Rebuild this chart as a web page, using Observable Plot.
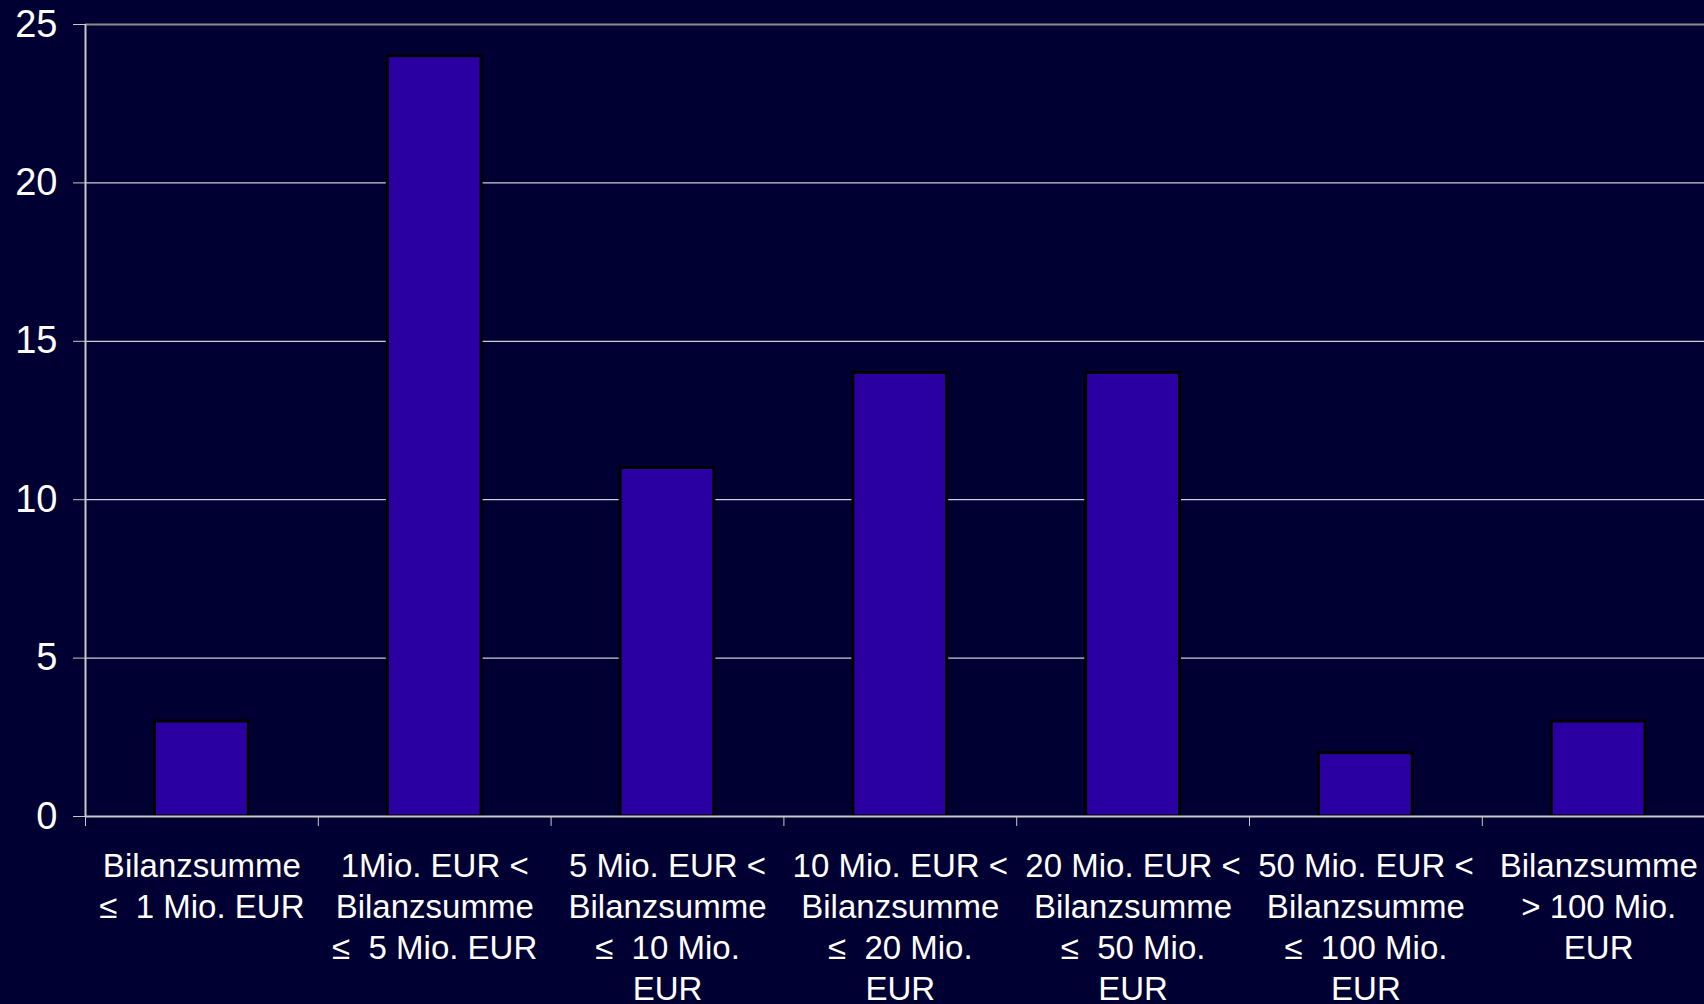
<!DOCTYPE html>
<html>
<head>
<meta charset="utf-8">
<script src="https://cdn.jsdelivr.net/npm/d3@7"></script>
<script src="https://cdn.jsdelivr.net/npm/@observablehq/plot@0.6"></script>
<style>
  html, body { margin: 0; padding: 0; background: #000033; overflow: hidden; }
</style>
</head>
<body>
<div id="chart"></div>
<script>
const categories = [
  "Bilanzsumme\n≤  1 Mio. EUR",
  "1Mio. EUR <\nBilanzsumme\n≤  5 Mio. EUR",
  "5 Mio. EUR <\nBilanzsumme\n≤  10 Mio.\nEUR",
  "10 Mio. EUR <\nBilanzsumme\n≤  20 Mio.\nEUR",
  "20 Mio. EUR <\nBilanzsumme\n≤  50 Mio.\nEUR",
  "50 Mio. EUR <\nBilanzsumme\n≤  100 Mio.\nEUR",
  "Bilanzsumme\n> 100 Mio.\nEUR"
];
const values = [3, 24, 11, 14, 14, 2, 3];
const yTicks = [0, 5, 10, 15, 20, 25];

const data = categories.map((c, i) => ({i, label: c, value: values[i]}));
const n = categories.length;

const chart = Plot.plot({
  width: 1704,
  height: 1004,
  marginLeft: 85,
  marginRight: -10.6,
  marginTop: 24,
  marginBottom: 188,
  x: {type: "linear", domain: [0, n]},
  y: {domain: [0, 25]},
  style: {
    background: "#000033",
    color: "#ffffff",
    fontFamily: "'Liberation Sans', Arial, sans-serif"
  },
  marks: [
    Plot.gridY(yTicks.filter(v => v > 0 && v < 25), {stroke: "#ffffff", strokeOpacity: 1, strokeWidth: 1}),
    Plot.ruleY([25], {stroke: "#8a8a8a", strokeWidth: 2}),
    Plot.rectY(data, {
      x1: "i", x2: d => d.i + 1, y: "value",
      insetLeft: 69.5, insetRight: 69.5,
      fill: "#2b00a3", stroke: "#000000", strokeWidth: 3
    }),
    Plot.ruleX([0], {stroke: "#c8c8c8", strokeWidth: 2}),
    Plot.ruleY([0], {stroke: "#c8c8c8", strokeWidth: 2}),
    Plot.axisY({ticks: yTicks, tickSize: 12, tickPadding: 16, fontSize: 38, stroke: "#c8c8c8", label: null}),
    Plot.axisX({ticks: d3.range(0, n + 1), tickSize: 10, tickFormat: () => "", stroke: "#c8c8c8", label: null}),
    Plot.axisX({
      ticks: categories.map((_, i) => i + 0.5),
      tickSize: 0, tickPadding: 31.5,
      tickFormat: v => categories[Math.floor(v)],
      fontSize: 33, lineHeight: 1.24, lineAnchor: "top", label: null
    })
  ]
});
document.getElementById("chart").appendChild(chart);
</script>
</body>
</html>
